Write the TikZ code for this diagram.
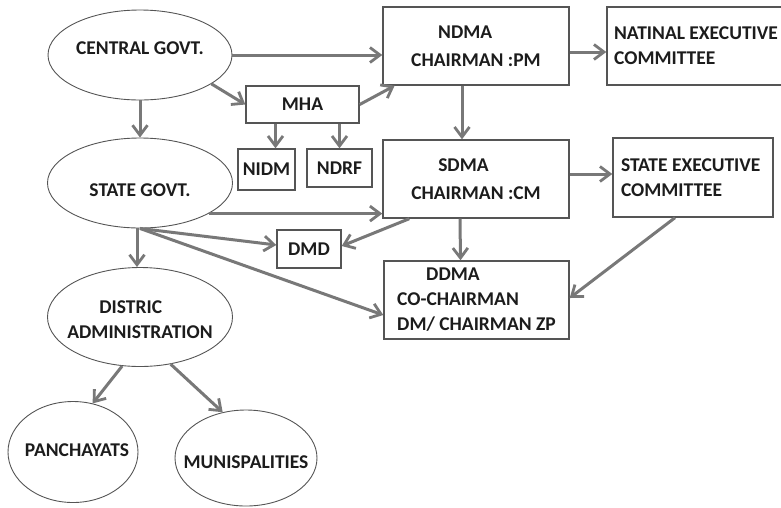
\documentclass[tikz,border=0pt]{standalone}
\usepackage{fontspec}
\setmainfont{Carlito}
\usetikzlibrary{arrows.meta,shapes.geometric}
\definecolor{arrgray}{RGB}{120,120,120}
\definecolor{boxgray}{RGB}{85,85,85}
\definecolor{txtgray}{RGB}{28,28,28}

\begin{document}
\begin{tikzpicture}[x=1pt,y=-1pt,oval/.style={ellipse,draw=boxgray,line width=.9pt,inner sep=0pt},lbl/.style={text=txtgray,align=left},box/.style={rectangle,draw=boxgray,line width=1.4pt,inner sep=0pt,text=txtgray,align=left},arr/.style={draw=arrgray,line width=3pt,-{Straight Barb[length=10pt,width=15pt,line width=2.8pt]}},every node/.style={font=\fontsize{19.5}{25}\selectfont\bfseries}]
\useasboundingbox (0,0) rectangle (781,507);
\node[oval,minimum width=184,minimum height=90,label={[lbl,yshift=7]center:CENTRAL GOVT.}] (cgov) at (140,55) {};
\node[oval,minimum width=185,minimum height=90,label={[lbl,yshift=-7]center:STATE GOVT.}] (sgov) at (140,183) {};
\node[oval,minimum width=185,minimum height=99,label={[lbl,yshift=-3]center:\hspace*{32pt}DISTRIC\\ADMINISTRATION}] (dist) at (140,317) {};
\node[oval,minimum width=130,minimum height=101,label={[lbl,xshift=4,yshift=2]center:PANCHAYATS}] (panch) at (73,452) {};
\node[oval,minimum width=142,minimum height=96,label={[lbl,yshift=-4]center:MUNISPALITIES}] (muni) at (246,458) {};
\node[box,minimum width=113,minimum height=37] (mha) at (302.5,104.5) {MHA};
\node[box,minimum width=57,minimum height=41] (nidm) at (266.5,169.5) {NIDM};
\node[box,minimum width=65,minimum height=38] (ndrf) at (339.5,168) {NDRF};
\node[box,minimum width=186,minimum height=78] (ndma) at (476,46) {\hspace*{27pt}NDMA\\[3pt]CHAIRMAN :PM};
\node[box,minimum width=178,minimum height=78] (nec) at (696,46) {NATINAL EXECUTIVE\\COMMITTEE};
\node[box,minimum width=186,minimum height=78] (sdma) at (476,179) {\hspace*{27pt}SDMA\\[3pt]CHAIRMAN :CM};
\node[box,minimum width=160,minimum height=79] (sec) at (693,177.5) {\raisebox{-6pt}{\parbox{144pt}{STATE EXECUTIVE\\COMMITTEE}}};
\node[box,minimum width=185,minimum height=78] (ddma) at (476.5,300) {\hspace*{29pt}DDMA\\CO-CHAIRMAN\\DM/ CHAIRMAN ZP};
\node[box,minimum width=64,minimum height=38] (dmd) at (309,249) {DMD};
\draw[arr] (cgov.east) -- (cgov.east -| ndma.west);
\draw[arr] (cgov.-22) -- (mha.west);
\draw[arr] (mha.east) -- (ndma.206);
\draw[arr] (cgov.south) -- (sgov.north);
\draw[arr] ([xshift=-27]mha.south) -- ([xshift=-27]mha.south |- nidm.north);
\draw[arr] (mha.south -| ndrf) -- (ndrf.north);
\draw[arr] ([xshift=-14]ndma.south) -- ([xshift=-14]sdma.north);
\draw[arr] ([yshift=-6]ndma.east) -- ([yshift=-6]nec.west);
\draw[arr] (sgov.-24) -- (sgov.-24 -| sdma.west);
\draw[arr] ([yshift=5]sdma.east) -- ([yshift=5]sdma.east -| sec.west);
\draw[arr] ([xshift=27]sdma.south west) -- ([yshift=3]dmd.east);
\draw[arr] ([xshift=-16]sdma.south) -- ([xshift=-16]ddma.north);
\draw[arr] ([xshift=-18]sec.south) -- ([yshift=2]ddma.east);
\draw[arr] ([xshift=-3]sgov.south) -- ([xshift=-3]dist.north);
\draw[arr] (sgov.south) -- ([yshift=4]dmd.west);
\draw[arr] (sgov.south) -- ([yshift=-15]ddma.west);
\draw[arr] (dist.250) -- (panch.68);
\draw[arr] (dist.-57) -- (muni.117);
\end{tikzpicture}
\end{document}
